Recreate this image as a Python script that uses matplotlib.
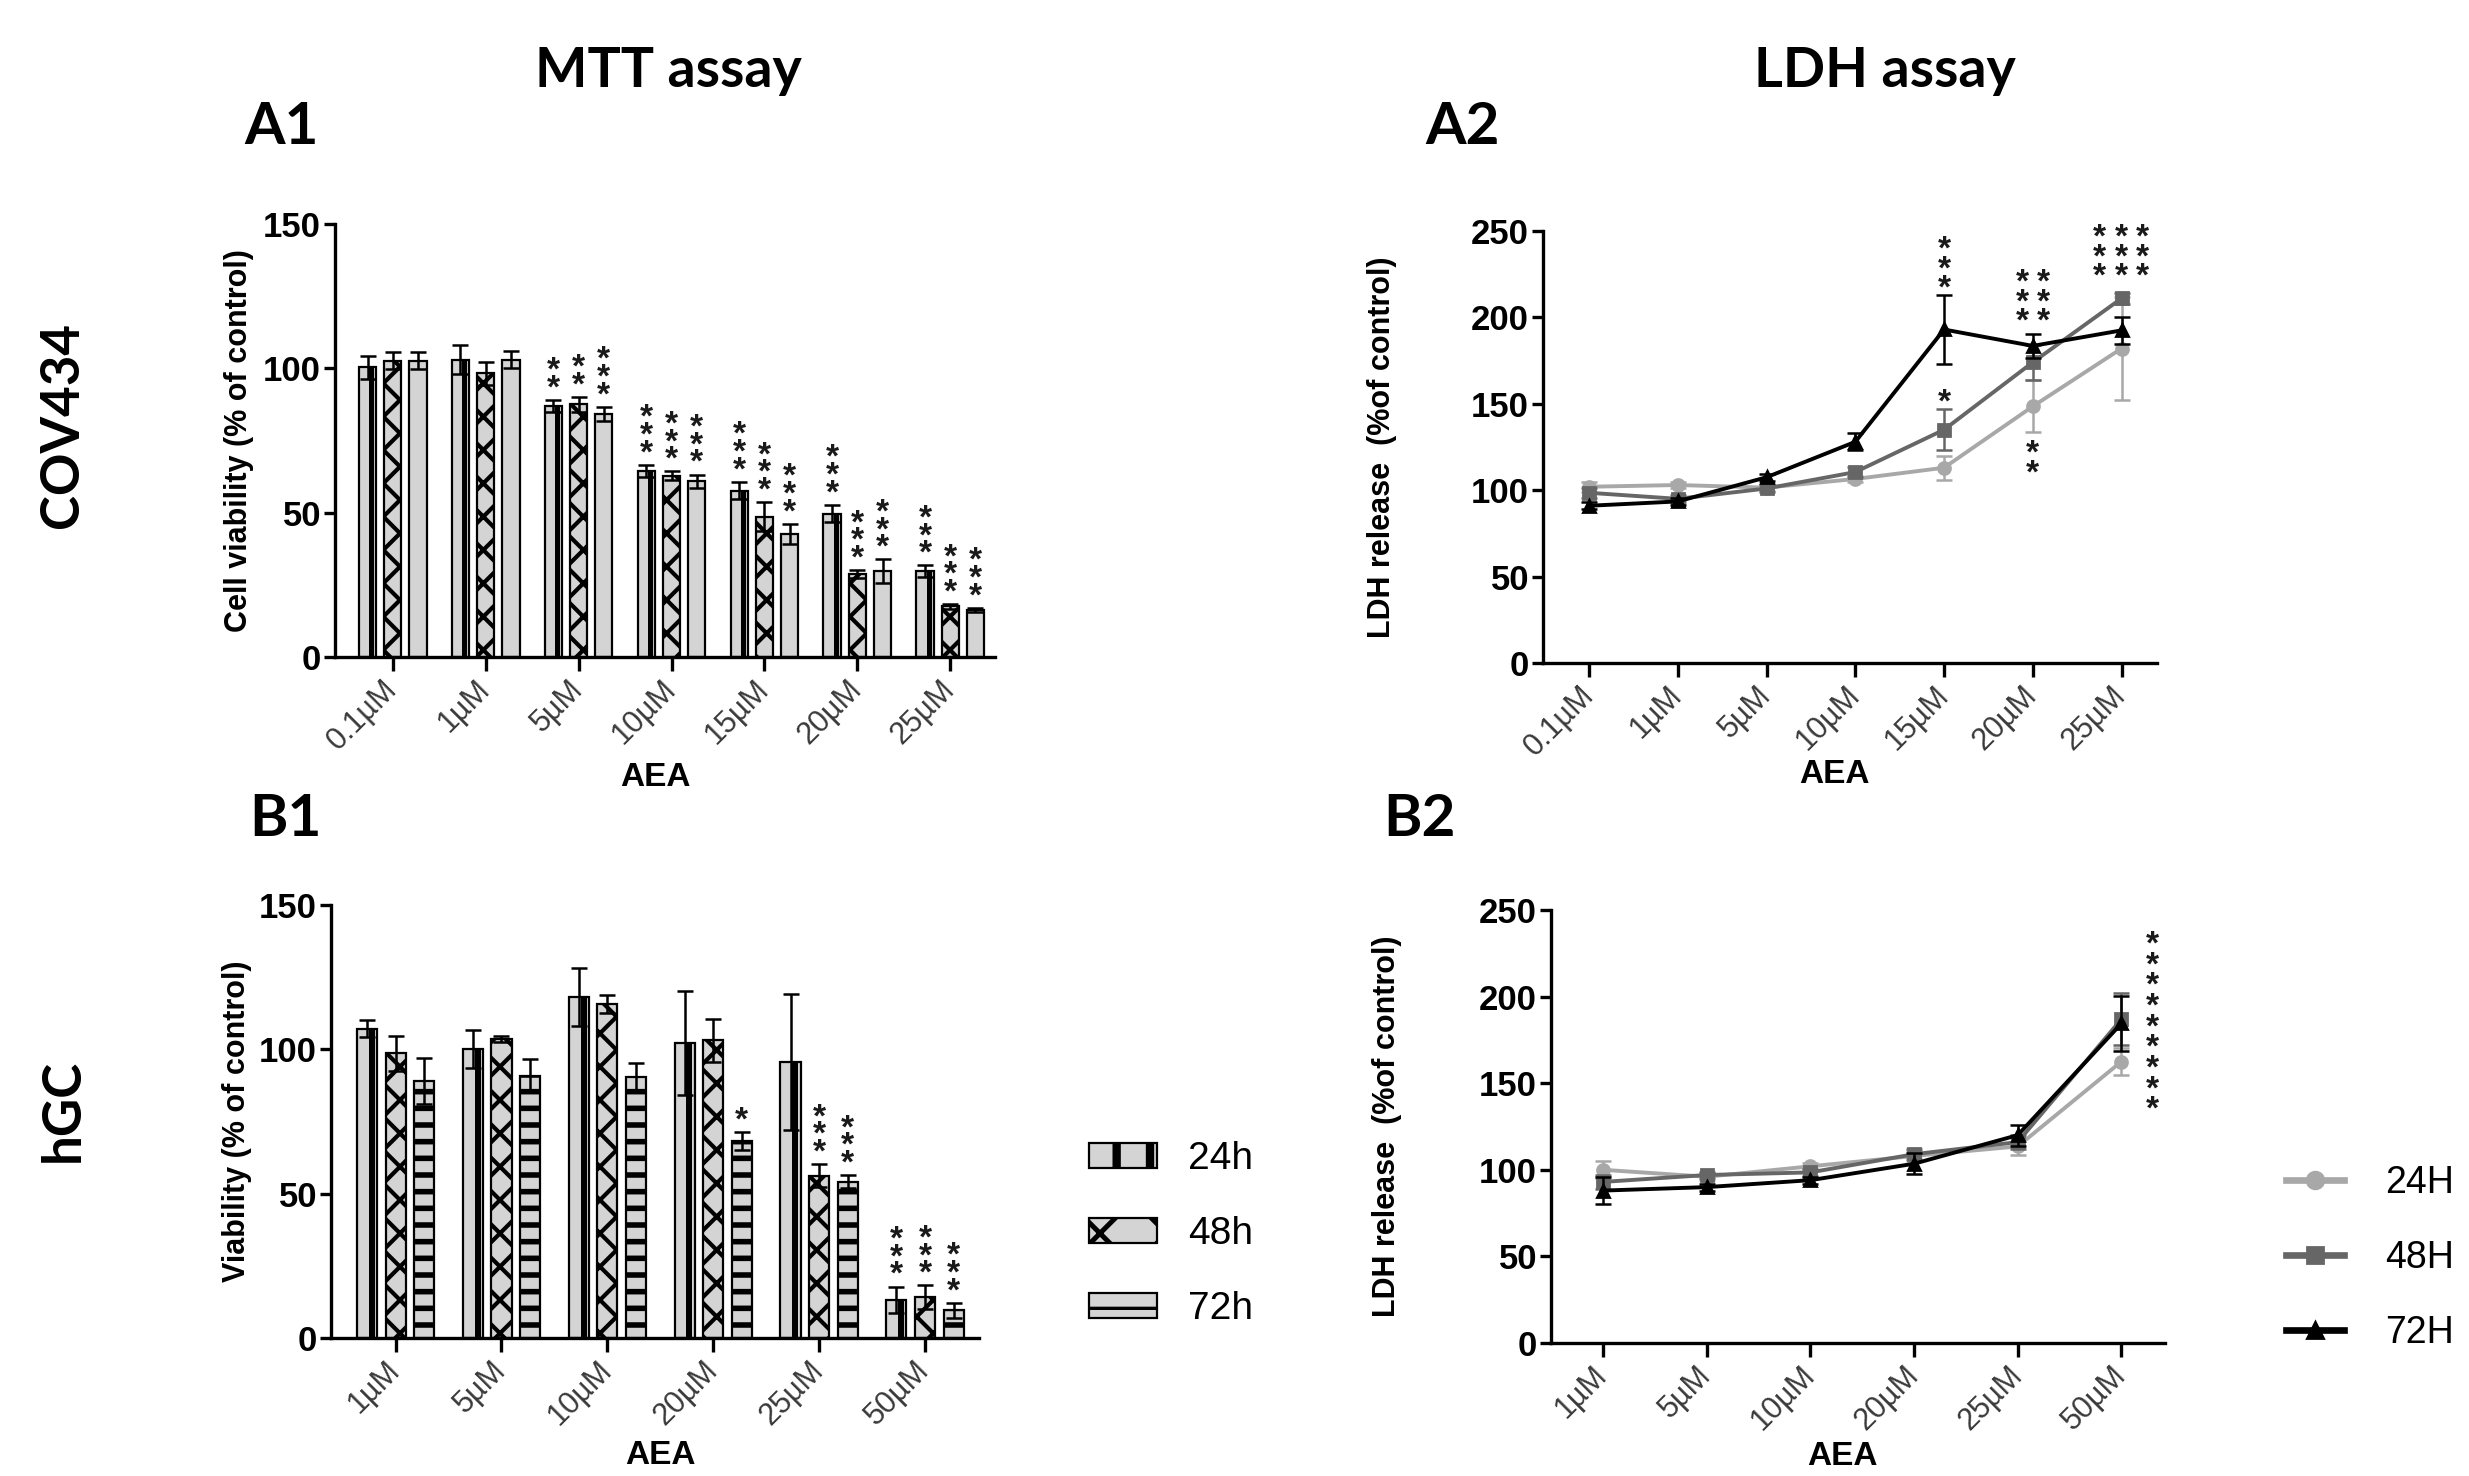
import matplotlib
matplotlib.use('Agg')
import matplotlib.pyplot as plt
from matplotlib import font_manager as fm
from matplotlib.patches import Patch
from matplotlib.lines import Line2D
import numpy as np

names = {f.name for f in fm.fontManager.ttflist}
TITLE_FONT = 'Lato' if 'Lato' in names else 'DejaVu Sans'
NARROW = 'Liberation Sans Narrow' if 'Liberation Sans Narrow' in names else 'Liberation Sans'
ARIAL = 'Liberation Sans'
plt.rcParams['font.family'] = [ARIAL, 'DejaVu Sans']
plt.rcParams['hatch.linewidth'] = 1.4

# ---------------- data ----------------
a1_labels = ["0.1µM", "1µM", "5µM", "10µM", "15µM", "20µM", "25µM"]
a1_24 = [100.3, 103.0, 87.0, 64.5, 57.6, 49.7, 29.7]
a1_24e = [4.0, 5.0, 2.0, 2.0, 3.0, 3.0, 2.0]
a1_48 = [102.6, 98.3, 87.5, 62.8, 48.6, 28.8, 17.5]
a1_48e = [3.0, 4.0, 2.5, 1.5, 5.0, 1.3, 0.8]
a1_72 = [102.6, 103.0, 84.1, 60.8, 42.7, 29.8, 16.4]
a1_72e = [3.0, 3.0, 2.5, 2.4, 3.5, 4.0, 0.7]
a1_s24 = ["", "", "**", "***", "***", "***", "***"]
a1_s48 = ["", "", "**", "***", "***", "***", "***"]
a1_s72 = ["", "", "***", "***", "***", "***", "***"]

b1_labels = ["1µM", "5µM", "10µM", "20µM", "25µM", "50µM"]
b1_24 = [107.1, 100.1, 118.1, 102.1, 95.5, 13.3]
b1_24e = [3.0, 6.5, 10.0, 18.0, 23.6, 4.5]
b1_48 = [98.6, 103.7, 115.7, 103.1, 56.2, 14.2]
b1_48e = [6.0, 1.0, 3.0, 7.5, 4.0, 4.0]
b1_72 = [89.0, 90.9, 90.3, 68.2, 54.2, 9.6]
b1_72e = [8.0, 5.7, 5.0, 3.0, 2.2, 2.5]
b1_s24 = ["", "", "", "", "", "***"]
b1_s48 = ["", "", "", "", "***", "***"]
b1_s72 = ["", "", "", "*", "***", "***"]

a2_labels = ["0.1µM", "1µM", "5µM", "10µM", "15µM", "20µM", "25µM"]
a2_24 = [102.0, 103.0, 101.5, 106.5, 113.0, 148.5, 182.0]
a2_24e = [3.0, 2.0, 2.0, 2.0, 7.0, 15.0, 30.0]
a2_48 = [98.5, 95.0, 101.0, 110.5, 135.0, 174.0, 211.0]
a2_48e = [3.0, 2.0, 2.0, 3.0, 12.0, 10.0, 3.0]
a2_72 = [91.0, 93.5, 107.5, 128.0, 193.0, 183.5, 192.5]
a2_72e = [2.0, 2.0, 2.0, 5.0, 20.0, 7.0, 8.0]
# significance marks: concentration index, side shift, value of the first star, text, direction
a2_star_x = [4, 4, 5, 5, 5, 6, 6, 6]
a2_star_dx = [0.0, 0.0, -0.12, 0.12, 0.0, -0.25, 0.0, 0.24]
a2_star_y = [218, 152, 199, 199, 127, 225, 225, 225]
a2_star_s = ["***", "*", "***", "***", "**", "***", "***", "***"]
a2_star_dir = [1, 1, 1, 1, -1, 1, 1, 1]

b2_labels = ["1µM", "5µM", "10µM", "20µM", "25µM", "50µM"]
b2_24 = [100.0, 96.0, 102.0, 108.0, 113.5, 162.5]
b2_24e = [5.0, 2.0, 2.0, 3.0, 5.0, 8.0]
b2_48 = [93.0, 97.0, 98.5, 109.0, 116.0, 187.0]
b2_48e = [4.0, 2.0, 2.0, 3.0, 4.0, 15.0]
b2_72 = [88.0, 90.0, 94.0, 103.5, 120.0, 184.5]
b2_72e = [8.0, 2.0, 2.0, 6.0, 6.0, 16.0]
b2_star_x = 5
b2_star_dx = 0.3
b2_star_y = 136          # lowest star (24H); 48H and 72H marks follow above
b2_star_s = ["***", "***", "***"]

bar_legend = ["24h", "48h", "72h"]
line_legend = ["24H", "48H", "72H"]

# ---------------- style ----------------
GRAY = '#d4d4d4'
C24, C48, C72 = '#a8a8a8', '#666666', '#000000'
STAR_C = '#1a1a1a'
STAR_FS = 12
LINE_EM = 1.1       # effective line pitch (em) at linespacing 1
BOTTOM_MID = 0.55   # centre of lowest "*" above text bottom (em)
TOP_MID = 0.145     # centre of first "*" below text top (em)


def star_col(ax, x, y, s, c0, sp, direction=1):
    """One text per column of asterisks; c0 = centre of first star (pt), sp = spacing (pt)."""
    if not s:
        return
    txt = '\n'.join(s)
    ls = sp / (LINE_EM * STAR_FS)
    if direction > 0:
        dy = c0 - BOTTOM_MID * STAR_FS
        va = 'bottom'
    else:
        dy = -c0 + TOP_MID * STAR_FS
        va = 'top'
    ax.annotate(txt, xy=(x, y), xytext=(0, dy), textcoords='offset points',
                ha='center', va=va, fontsize=STAR_FS, fontweight='bold',
                linespacing=ls, color=STAR_C, zorder=6)


W, H = 2469, 1476
DPI = 200
fig = plt.figure(figsize=(W / DPI, H / DPI), dpi=DPI)


def add_axes(left, right, top, bottom):
    return fig.add_axes([left / W, 1 - bottom / H, (right - left) / W, (bottom - top) / H])


def style(ax, ymax, yticks, labels, xlim):
    for s in ['top', 'right']:
        ax.spines[s].set_visible(False)
    for s in ['left', 'bottom']:
        ax.spines[s].set_linewidth(1.2)
    ax.set_ylim(0, ymax)
    ax.set_xlim(*xlim)
    ax.set_yticks(yticks)
    ax.set_xticks(range(len(labels)))
    ax.set_xticklabels(labels, rotation=45, ha='right', va='center',
                       rotation_mode='anchor', fontsize=11, color='#3a3a3a')
    ax.tick_params(axis='y', length=4, width=1.2, pad=1)
    ax.tick_params(axis='x', length=5, width=1.2, pad=5)
    for t in ax.get_yticklabels():
        t.set_fontweight('bold')
        t.set_family(NARROW)
        t.set_fontsize(12.5)


def hatch_lw(artists, lw):
    for a in artists:
        if hasattr(a, 'set_hatch_linewidth'):
            a.set_hatch_linewidth(lw)


def bar_panel(ax, n, v24, e24, v48, e48, v72, e72, s24, s48, s72, hatch72):
    x = np.arange(n)
    off, w = 0.27, 0.19
    ekw = dict(fmt='none', ecolor='k', elinewidth=0.9, capsize=2.8, capthick=0.9, zorder=4)
    ax.bar(x - off, v24, w, color=GRAY, edgecolor='k', linewidth=0.8, zorder=2)
    ax.bar(x - off + 0.24 * w, v24, 0.3 * w, color='k', linewidth=0, zorder=2.5)
    b48 = ax.bar(x, v48, w, color=GRAY, edgecolor='k', linewidth=0.8, hatch='xx', zorder=2)
    hatch_lw(b48, 1.5)
    b72 = ax.bar(x + off, v72, w, color=GRAY, edgecolor='k', linewidth=0.8,
                 hatch=hatch72, zorder=2)
    if hatch72:
        hatch_lw(b72, 2.0)
    ax.errorbar(x - off, v24, yerr=e24, **ekw)
    ax.errorbar(x, v48, yerr=e48, **ekw)
    ax.errorbar(x + off, v72, yerr=e72, **ekw)
    for i in range(n):
        star_col(ax, x[i] - off, v24[i] + e24[i], s24[i], 5.0, 5.9)
        star_col(ax, x[i], v48[i] + e48[i], s48[i], 5.0, 5.9)
        star_col(ax, x[i] + off, v72[i] + e72[i], s72[i], 5.0, 5.9)


def line_panel(ax, n, v24, e24, v48, e48, v72, e72):
    x = np.arange(n)
    common = dict(lw=1.4, capsize=3.0, elinewidth=0.9, capthick=0.9, ms=4.3)
    ax.errorbar(x, v24, yerr=e24, color=C24, marker='o', zorder=3, **common)
    ax.errorbar(x, v48, yerr=e48, color=C48, marker='s', zorder=3.2, **common)
    ax.errorbar(x, v72, yerr=e72, color=C72, marker='^', zorder=3.4, **common)


def axis_label(ax, text, xy):
    ax.text(xy[0], xy[1], text, transform=ax.transAxes, ha='center', va='center',
            fontsize=12, fontweight='bold')


# ---- A1 ----
axA1 = add_axes(335, 995, 224, 657)
bar_panel(axA1, len(a1_labels), a1_24, a1_24e, a1_48, a1_48e, a1_72, a1_72e,
          a1_s24, a1_s48, a1_s72, None)
style(axA1, 150, [0, 50, 100, 150], a1_labels, (-0.62, 6.48))
axA1.set_ylabel("Cell viability (% of control)", fontsize=11, fontweight='bold')
axA1.yaxis.set_label_coords(-0.122, 0.5)
axis_label(axA1, "AEA", (0.485, -0.279))

# ---- B1 ----
axB1 = add_axes(331, 979, 905, 1338)
bar_panel(axB1, len(b1_labels), b1_24, b1_24e, b1_48, b1_48e, b1_72, b1_72e,
          b1_s24, b1_s48, b1_s72, '--')
style(axB1, 150, [0, 50, 100, 150], b1_labels, (-0.61, 5.51))
axB1.set_ylabel("Viability (% of control)", fontsize=11, fontweight='bold')
axB1.yaxis.set_label_coords(-0.122, 0.5)
axis_label(axB1, "AEA", (0.509, -0.272))

# ---- A2 ----
axA2 = add_axes(1543, 2157, 231, 663)
line_panel(axA2, len(a2_labels), a2_24, a2_24e, a2_48, a2_48e, a2_72, a2_72e)
style(axA2, 250, [0, 50, 100, 150, 200, 250], a2_labels, (-0.52, 6.4))
axA2.set_ylabel("LDH release  (%of control)", fontsize=11, fontweight='bold')
axA2.yaxis.set_label_coords(-0.238, 0.5)
axis_label(axA2, "AEA", (0.474, -0.259))
for xi, dx, yv, s, d in zip(a2_star_x, a2_star_dx, a2_star_y, a2_star_s, a2_star_dir):
    star_col(axA2, xi + dx, yv, s, 0.0, 6.8, d)

# ---- B2 ----
axB2 = add_axes(1551, 2165, 910, 1343)
line_panel(axB2, len(b2_labels), b2_24, b2_24e, b2_48, b2_48e, b2_72, b2_72e)
style(axB2, 250, [0, 50, 100, 150, 200, 250], b2_labels, (-0.5, 5.42))
axB2.set_ylabel("LDH release  (%of control)", fontsize=11, fontweight='bold')
axB2.yaxis.set_label_coords(-0.243, 0.5)
axis_label(axB2, "AEA", (0.474, -0.261))
star_col(axB2, b2_star_x + b2_star_dx, b2_star_y, ''.join(b2_star_s), 0.0, 7.5)

# ---- legends ----
bar_handles = [Patch(facecolor=GRAY, edgecolor='k', hatch='|', linewidth=0.8),
               Patch(facecolor=GRAY, edgecolor='k', hatch='x', linewidth=0.8),
               Patch(facecolor=GRAY, edgecolor='k', hatch='--', linewidth=0.8)]
leg1 = fig.legend(bar_handles, bar_legend, loc='center left', bbox_to_anchor=(1054 / W, 1 - 1234 / H),
                  frameon=False, fontsize=14, handlelength=1.75, handleheight=0.6,
                  labelspacing=1.0, handletextpad=0.8)
lws = [3.0, 1.8, 1.2]
for p, lw in zip(leg1.get_patches(), lws):
    hatch_lw([p], lw)

line_handles = [Line2D([], [], color=C24, marker='o', ms=6, lw=2.4),
                Line2D([], [], color=C48, marker='s', ms=6, lw=2.4),
                Line2D([], [], color=C72, marker='^', ms=6, lw=2.4)]
fig.legend(line_handles, line_legend, loc='center left', bbox_to_anchor=(2252 / W, 1 - 1258 / H),
           frameon=False, fontsize=13.5, handlelength=1.55, labelspacing=1.05, handletextpad=1.1)

# ---- titles ----
tkw = dict(fontfamily=TITLE_FONT, fontweight='bold')
fig.text(668 / W, 1 - 71 / H, "MTT assay", ha='center', va='center', fontsize=20, **tkw)
fig.text(1885 / W, 1 - 71 / H, "LDH assay", ha='center', va='center', fontsize=20, **tkw)
fig.text(244 / W, 1 - 128 / H, "A1", ha='left', va='center', fontsize=21, **tkw)
fig.text(1425 / W, 1 - 128 / H, "A2", ha='left', va='center', fontsize=21, **tkw)
fig.text(249 / W, 1 - 819 / H, "B1", ha='left', va='center', fontsize=21, **tkw)
fig.text(1383 / W, 1 - 819 / H, "B2", ha='left', va='center', fontsize=21, **tkw)
fig.text(63 / W, 1 - 425 / H, "COV434", ha='center', va='center', rotation=90, fontsize=19, **tkw)
fig.text(63 / W, 1 - 1110 / H, "hGC", ha='center', va='center', rotation=90, fontsize=19, **tkw)

fig.savefig('out.png', dpi=DPI, facecolor='white')
